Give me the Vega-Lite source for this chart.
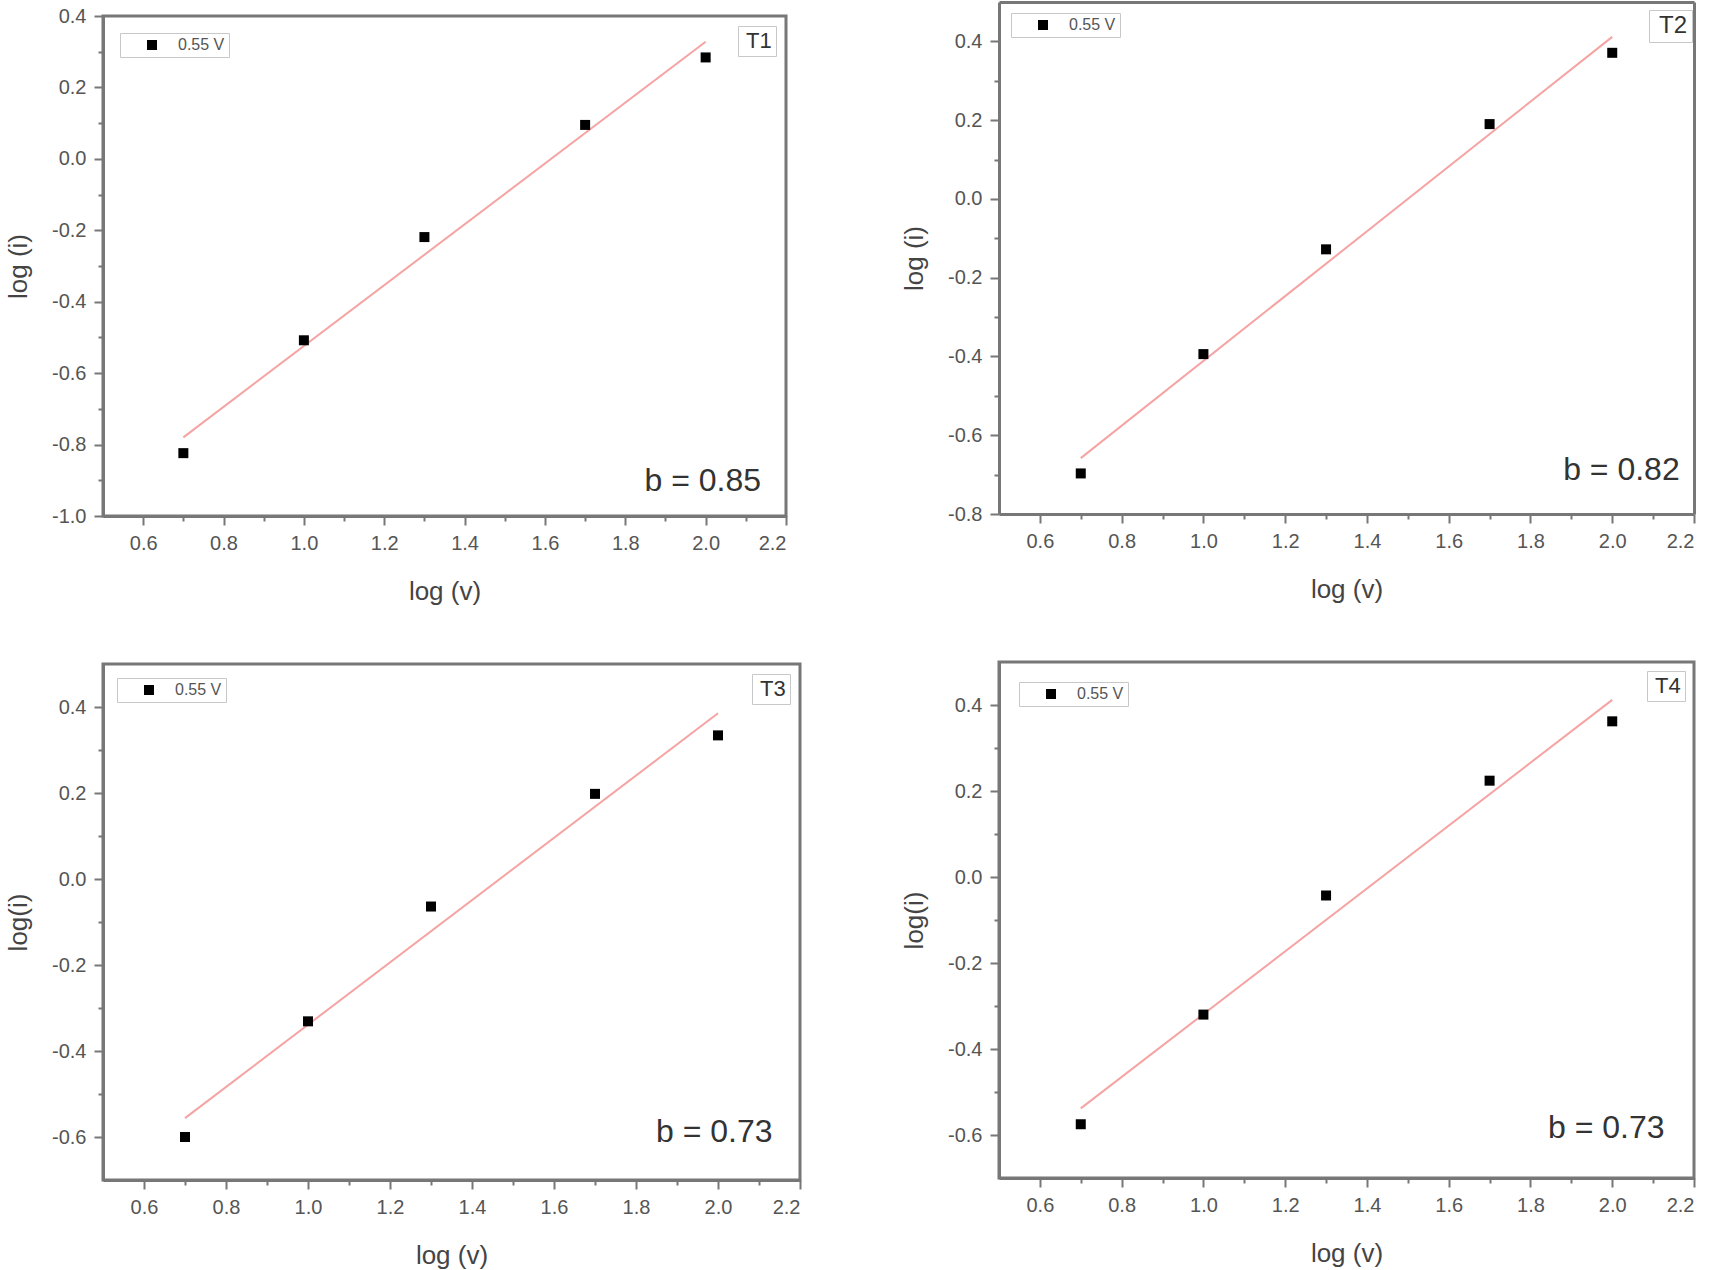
{
  "$schema": "https://vega.github.io/schema/vega-lite/v6.json",
  "padding": {"left": 4, "top": 2, "right": 5, "bottom": 0},
  "background": "white",
  "datasets": {
    "pts": [
      {"panel": "T1", "series": "0.55 V", "logv": 0.7, "logi": -0.824},
      {"panel": "T1", "series": "0.55 V", "logv": 1.0, "logi": -0.508},
      {"panel": "T1", "series": "0.55 V", "logv": 1.3, "logi": -0.219},
      {"panel": "T1", "series": "0.55 V", "logv": 1.7, "logi": 0.095},
      {"panel": "T1", "series": "0.55 V", "logv": 2.0, "logi": 0.284},
      {"panel": "T2", "series": "0.55 V", "logv": 0.7, "logi": -0.697},
      {"panel": "T2", "series": "0.55 V", "logv": 1.0, "logi": -0.394},
      {"panel": "T2", "series": "0.55 V", "logv": 1.3, "logi": -0.128},
      {"panel": "T2", "series": "0.55 V", "logv": 1.7, "logi": 0.19},
      {"panel": "T2", "series": "0.55 V", "logv": 2.0, "logi": 0.371},
      {"panel": "T3", "series": "0.55 V", "logv": 0.7, "logi": -0.6},
      {"panel": "T3", "series": "0.55 V", "logv": 1.0, "logi": -0.331},
      {"panel": "T3", "series": "0.55 V", "logv": 1.3, "logi": -0.064},
      {"panel": "T3", "series": "0.55 V", "logv": 1.7, "logi": 0.198},
      {"panel": "T3", "series": "0.55 V", "logv": 2.0, "logi": 0.334},
      {"panel": "T4", "series": "0.55 V", "logv": 0.7, "logi": -0.575},
      {"panel": "T4", "series": "0.55 V", "logv": 1.0, "logi": -0.32},
      {"panel": "T4", "series": "0.55 V", "logv": 1.3, "logi": -0.043},
      {"panel": "T4", "series": "0.55 V", "logv": 1.7, "logi": 0.224},
      {"panel": "T4", "series": "0.55 V", "logv": 2.0, "logi": 0.362}
    ]
  },
  "data": {"name": "pts"},
  "hconcat": [
    {
      "vconcat": [
        {
          "width": 683,
          "height": 500,
          "transform": [{"filter": "datum.panel === 'T1'"}],
          "layer": [
            {
              "transform": [{"regression": "logi", "on": "logv", "extent": [0.7, 2.0]}],
              "mark": {"type": "line", "color": "#f5a3a3", "strokeWidth": 2},
              "encoding": {
                "x": {"field": "logv", "type": "quantitative", "scale": {"domain": [0.5, 2.2], "nice": false, "zero": false},
                  "axis": {"orient": "bottom", "title": "log (v)", "values": [0.6, 0.8, 1.0, 1.2, 1.4, 1.6, 1.8, 2.0, 2.2], "labelExpr": "format(datum.value, '.1f')"}},
                "y": {"field": "logi", "type": "quantitative", "scale": {"domain": [-1.0, 0.4], "nice": false, "zero": false},
                  "axis": {"orient": "left", "title": "log (i)", "values": [-1.0, -0.8, -0.6, -0.4, -0.2, 0, 0.2, 0.4], "labelExpr": "replace(format(datum.value, '.1f'), '\u2212', '-')"}}
              }
            },
            {
              "mark": {"type": "point", "filled": true, "shape": "square", "size": 100, "opacity": 1},
              "encoding": {
                "x": {"field": "logv", "type": "quantitative",
                  "axis": {"orient": "bottom", "title": null, "labels": false, "domain": false, "tickSize": 5, "values": [0.7, 0.9, 1.1, 1.3, 1.5, 1.7, 1.9, 2.1]}},
                "y": {"field": "logi", "type": "quantitative",
                  "axis": {"orient": "left", "title": null, "labels": false, "domain": false, "tickSize": 5, "values": [-0.9, -0.7, -0.5, -0.3, -0.1, 0.1, 0.3]}},
                "color": {"field": "series", "type": "nominal", "scale": {"range": ["black"]}, "legend": {"orient": "top-left", "offset": 17}},
                "shape": {"field": "panel", "type": "nominal", "scale": {"range": ["square"]}, "legend": {"orient": "top-right", "offset": 10, "symbolSize": 0, "symbolStrokeWidth": 0, "symbolOpacity": 0, "labelOffset": -18, "labelFontSize": 22, "labelColor": "#333", "padding": 4, "symbolOffset": 0}}
              }
            },
            {
              "data": {"values": [{"b": "b = 0.85"}]},
              "mark": {"type": "text", "align": "right", "baseline": "middle", "fontSize": 32, "color": "#333"},
              "encoding": {
                "x": {"datum": 2.138, "type": "quantitative", "axis": null},
                "y": {"datum": -0.902, "type": "quantitative", "axis": null},
                "text": {"field": "b"}
              }
            }
          ],
          "resolve": {"axis": {"x": "independent", "y": "independent"}}
        },
        {
          "width": 697,
          "height": 516,
          "transform": [{"filter": "datum.panel === 'T3'"}],
          "layer": [
            {
              "transform": [{"regression": "logi", "on": "logv", "extent": [0.7, 2.0]}],
              "mark": {"type": "line", "color": "#f5a3a3", "strokeWidth": 2},
              "encoding": {
                "x": {"field": "logv", "type": "quantitative", "scale": {"domain": [0.5, 2.2], "nice": false, "zero": false},
                  "axis": {"orient": "bottom", "title": "log (v)", "values": [0.6, 0.8, 1.0, 1.2, 1.4, 1.6, 1.8, 2.0, 2.2], "labelExpr": "format(datum.value, '.1f')"}},
                "y": {"field": "logi", "type": "quantitative", "scale": {"domain": [-0.7, 0.5], "nice": false, "zero": false},
                  "axis": {"orient": "left", "title": "log(i)", "values": [-0.6, -0.4, -0.2, 0, 0.2, 0.4], "labelExpr": "replace(format(datum.value, '.1f'), '\u2212', '-')"}}
              }
            },
            {
              "mark": {"type": "point", "filled": true, "shape": "square", "size": 100, "opacity": 1},
              "encoding": {
                "x": {"field": "logv", "type": "quantitative",
                  "axis": {"orient": "bottom", "title": null, "labels": false, "domain": false, "tickSize": 5, "values": [0.7, 0.9, 1.1, 1.3, 1.5, 1.7, 1.9, 2.1]}},
                "y": {"field": "logi", "type": "quantitative",
                  "axis": {"orient": "left", "title": null, "labels": false, "domain": false, "tickSize": 5, "values": [-0.5, -0.3, -0.1, 0.1, 0.3]}},
                "color": {"field": "series", "type": "nominal", "scale": {"range": ["black"]}, "legend": {"orient": "top-left", "offset": 14}},
                "shape": {"field": "panel", "type": "nominal", "scale": {"range": ["square"]}, "legend": {"orient": "top-right", "offset": 10, "symbolSize": 0, "symbolStrokeWidth": 0, "symbolOpacity": 0, "labelOffset": -18, "labelFontSize": 22, "labelColor": "#333", "padding": 4, "symbolOffset": 0}}
              }
            },
            {
              "data": {"values": [{"b": "b = 0.73"}]},
              "mark": {"type": "text", "align": "right", "baseline": "middle", "fontSize": 32, "color": "#333"},
              "encoding": {
                "x": {"datum": 2.133, "type": "quantitative", "axis": null},
                "y": {"datum": -0.588, "type": "quantitative", "axis": null},
                "text": {"field": "b"}
              }
            }
          ],
          "resolve": {"axis": {"x": "independent", "y": "independent"}}
        }
      ],
      "spacing": 56,
      "resolve": {"scale": {"color": "independent", "shape": "independent"}, "legend": {"color": "independent", "shape": "independent"}}
    },
    {
      "vconcat": [
        {
          "width": 695,
          "height": 498,
          "view": {"stroke": null},
          "transform": [{"filter": "datum.panel === 'T2'"}],
          "layer": [
            {
              "transform": [{"regression": "logi", "on": "logv", "extent": [0.7, 2.0]}],
              "mark": {"type": "line", "color": "#f5a3a3", "strokeWidth": 2},
              "encoding": {
                "x": {"field": "logv", "type": "quantitative", "scale": {"domain": [0.5, 2.2], "nice": false, "zero": false},
                  "axis": {"orient": "bottom", "title": "log (v)", "values": [0.6, 0.8, 1.0, 1.2, 1.4, 1.6, 1.8, 2.0, 2.2], "labelExpr": "format(datum.value, '.1f')"}},
                "y": {"field": "logi", "type": "quantitative", "scale": {"domain": [-0.8, 0.5], "nice": false, "zero": false, "range": [498, -14]},
                  "axis": {"orient": "left", "title": "log (i)", "values": [-0.8, -0.6, -0.4, -0.2, 0, 0.2, 0.4], "labelExpr": "replace(format(datum.value, '.1f'), '\u2212', '-')"}}
              }
            },
            {
              "mark": {"type": "point", "filled": true, "shape": "square", "size": 100, "opacity": 1},
              "encoding": {
                "x": {"field": "logv", "type": "quantitative",
                  "axis": {"orient": "bottom", "title": null, "labels": false, "domain": false, "tickSize": 5, "values": [0.7, 0.9, 1.1, 1.3, 1.5, 1.7, 1.9, 2.1]}},
                "y": {"field": "logi", "type": "quantitative",
                  "axis": {"orient": "left", "title": null, "labels": false, "domain": false, "tickSize": 5, "values": [-0.7, -0.5, -0.3, -0.1, 0.1, 0.3]}},
                "color": {"field": "series", "type": "nominal", "scale": {"range": ["black"]}, "legend": {"orient": "none", "legendX": 12, "legendY": -3}},
                "shape": {"field": "panel", "type": "nominal", "scale": {"range": ["square"]}, "legend": {"orient": "none", "legendX": 650, "legendY": -6, "symbolSize": 0, "symbolStrokeWidth": 0, "symbolOpacity": 0, "labelOffset": -18, "labelFontSize": 24, "labelColor": "#333", "padding": 4, "symbolOffset": 0}}
              }
            },
            {
              "data": {"values": [{"b": "b = 0.82"}]},
              "mark": {"type": "text", "align": "right", "baseline": "middle", "fontSize": 32, "color": "#333"},
              "encoding": {
                "x": {"datum": 2.165, "type": "quantitative",
                  "axis": {"orient": "top", "offset": 14, "title": null, "labels": false, "ticks": false}},
                "y": {"datum": -0.688, "type": "quantitative",
                  "axis": {"orient": "right", "title": null, "labels": false, "ticks": false}},
                "text": {"field": "b"}
              }
            }
          ],
          "resolve": {"axis": {"x": "independent", "y": "independent"}}
        },
        {
          "width": 695,
          "height": 516,
          "transform": [{"filter": "datum.panel === 'T4'"}],
          "layer": [
            {
              "transform": [{"regression": "logi", "on": "logv", "extent": [0.7, 2.0]}],
              "mark": {"type": "line", "color": "#f5a3a3", "strokeWidth": 2},
              "encoding": {
                "x": {"field": "logv", "type": "quantitative", "scale": {"domain": [0.5, 2.2], "nice": false, "zero": false},
                  "axis": {"orient": "bottom", "title": "log (v)", "values": [0.6, 0.8, 1.0, 1.2, 1.4, 1.6, 1.8, 2.0, 2.2], "labelExpr": "format(datum.value, '.1f')"}},
                "y": {"field": "logi", "type": "quantitative", "scale": {"domain": [-0.7, 0.5], "nice": false, "zero": false},
                  "axis": {"orient": "left", "title": "log(i)", "values": [-0.6, -0.4, -0.2, 0, 0.2, 0.4], "labelExpr": "replace(format(datum.value, '.1f'), '\u2212', '-')"}}
              }
            },
            {
              "mark": {"type": "point", "filled": true, "shape": "square", "size": 100, "opacity": 1},
              "encoding": {
                "x": {"field": "logv", "type": "quantitative",
                  "axis": {"orient": "bottom", "title": null, "labels": false, "domain": false, "tickSize": 5, "values": [0.7, 0.9, 1.1, 1.3, 1.5, 1.7, 1.9, 2.1]}},
                "y": {"field": "logi", "type": "quantitative",
                  "axis": {"orient": "left", "title": null, "labels": false, "domain": false, "tickSize": 5, "values": [-0.5, -0.3, -0.1, 0.1, 0.3]}},
                "color": {"field": "series", "type": "nominal", "scale": {"range": ["black"]}, "legend": {"orient": "top-left", "offset": 20}},
                "shape": {"field": "panel", "type": "nominal", "scale": {"range": ["square"]}, "legend": {"orient": "top-right", "offset": 9, "symbolSize": 0, "symbolStrokeWidth": 0, "symbolOpacity": 0, "labelOffset": -18, "labelFontSize": 22, "labelColor": "#333", "padding": 4, "symbolOffset": 0}}
              }
            },
            {
              "data": {"values": [{"b": "b = 0.73"}]},
              "mark": {"type": "text", "align": "right", "baseline": "middle", "fontSize": 32, "color": "#333"},
              "encoding": {
                "x": {"datum": 2.128, "type": "quantitative", "axis": null},
                "y": {"datum": -0.584, "type": "quantitative", "axis": null},
                "text": {"field": "b"}
              }
            }
          ],
          "resolve": {"axis": {"x": "independent", "y": "independent"}}
        }
      ],
      "spacing": 58,
      "resolve": {"scale": {"color": "independent", "shape": "independent"}, "legend": {"color": "independent", "shape": "independent"}}
    }
  ],
  "spacing": 97,
  "resolve": {"scale": {"color": "independent", "shape": "independent"}, "legend": {"color": "independent", "shape": "independent"}},
  "config": {
    "font": "Liberation Sans",
    "view": {"stroke": "#777", "strokeWidth": 3},
    "axis": {
      "domainColor": "#777", "domainWidth": 3,
      "tickColor": "#777", "tickWidth": 2, "tickSize": 9,
      "labelFontSize": 20, "labelColor": "#555", "labelPadding": 8,
      "titleFontSize": 26, "titleFontWeight": "normal", "titleColor": "#444",
      "grid": false
    },
    "axisX": {"titlePadding": 25},
    "axisY": {"titlePadding": 20},
    "legend": {
      "title": null,
      "symbolType": "square", "symbolSize": 100, "symbolOffset": 20,
      "labelOffset": 18, "labelFontSize": 16, "labelColor": "#555",
      "padding": 4, "strokeColor": "#c8c8c8", "fillColor": "white", "cornerRadius": 0
    }
  }
}
